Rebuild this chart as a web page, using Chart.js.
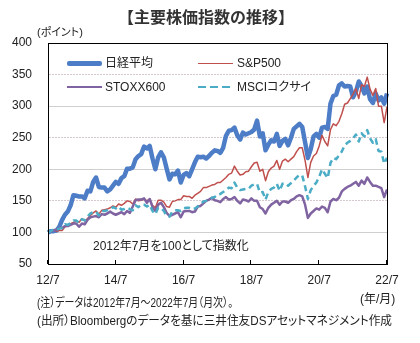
<!DOCTYPE html>
<html lang="ja">
<head>
<meta charset="utf-8">
<script src="https://cdn.jsdelivr.net/npm/chart.js@4.4.1/dist/chart.umd.min.js"></script>
<style>
  html, body { margin: 0; padding: 0; background: #fff; }
  #wrap {
    position: relative; width: 420px; height: 343px; overflow: hidden;
    font-family: "Liberation Sans", "Noto Sans CJK JP", sans-serif;
    font-feature-settings: "palt"; color: #222;
  }
  #wrap canvas { position: absolute; left: 0; top: 0; }
  .txt { position: absolute; white-space: nowrap; line-height: 1; }
  .fit { transform-origin: 0 50%; }
  .swatch { position: absolute; }
</style>
</head>
<body>
<div id="wrap">
  <canvas id="indexChart" width="420" height="343"></canvas>

  <div class="txt" id="title" style="left:0; width:412px; top:8px; text-align:center; font-size:16px; font-weight:bold; color:#333; font-feature-settings:normal; font-family:'Noto Sans CJK JP',sans-serif;">【主要株価指数の推移】</div>
  <div class="txt" style="left:37px; top:27px; font-size:11px;">(ポイント)</div>

  <!-- legend -->
  <div class="swatch" style="left:67px; top:61px; width:35px; height:4.5px; border-radius:2px; background:#4C7DC6;"></div>
  <div class="txt" style="left:105px; top:57px; font-size:12px;">日経平均</div>
  <div class="swatch" style="left:198px; top:62.5px; width:35px; height:1.5px; background:#C0504D;"></div>
  <div class="txt" style="left:237px; top:57px; font-size:12px;">S&amp;P500</div>
  <div class="swatch" style="left:67px; top:85.5px; width:35px; height:2.5px; background:#8064A2;"></div>
  <div class="txt" style="left:105px; top:81px; font-size:12px;">STOXX600</div>
  <div class="swatch" style="left:198px; top:85.5px; width:35px; height:2.5px; background:repeating-linear-gradient(to right, #4BACC6 0 8px, transparent 8px 12px);"></div>
  <div class="txt" style="left:237px; top:81px; font-size:12px;">MSCIコクサイ</div>

  <div class="txt" style="left:93px; top:240px; font-size:12px;">2012年7月を100として指数化</div>
  <div class="txt" style="left:360px; top:293px; font-size:12px;">(年/月)</div>
  <div class="txt fit" data-w="196" style="left:37px; top:297px; font-size:12px;">(注）データは2012年7月～2022年7月（月次）。</div>
  <div class="txt fit" data-w="355" style="left:37px; top:315px; font-size:12px;">(出所）Bloombergのデータを基に三井住友DSアセットマネジメント作成</div>
</div>

<script>
// monthly index values, 2012/7 = 100 (2012/7 .. 2022/7)
const nikkei = [
  100, 102, 102, 103, 109, 120,
  128, 133, 143, 159, 158, 157, 157, 154, 166, 165, 180, 187,
  172, 171, 171, 165, 168, 174, 180, 177, 186, 189, 201, 201,
  203, 216, 221, 224, 236, 233, 237, 217, 200, 219, 227, 219,
  201, 184, 193, 192, 198, 179, 191, 194, 189, 200, 211, 220,
  219, 220, 217, 221, 226, 230, 229, 226, 234, 253, 261, 262,
  266, 254, 247, 258, 255, 257, 259, 263, 277, 252, 257, 230,
  239, 246, 244, 256, 237, 245, 248, 238, 250, 264, 268, 272,
  267, 243, 218, 232, 252, 256, 250, 266, 267, 264, 304, 316,
  318, 333, 336, 331, 332, 331, 314, 323, 339, 332, 320, 331,
  311, 305, 320, 309, 314, 304, 320
]
const sp500 = [
  100, 102, 104, 102, 103, 103,
  109, 110, 114, 116, 118, 116, 122, 118, 122, 127, 131, 134,
  129, 135, 136, 137, 139, 142, 140, 145, 143, 146, 150, 149,
  145, 153, 150, 151, 153, 150, 153, 143, 139, 151, 151, 148,
  141, 140, 149, 150, 152, 152, 158, 157, 157, 154, 159, 162,
  165, 171, 171, 173, 175, 176, 179, 179, 183, 187, 192, 194,
  205, 197, 191, 192, 196, 197, 204, 210, 211, 197, 200, 182,
  196, 202, 205, 214, 200, 213, 216, 212, 216, 220, 228, 234,
  234, 214, 187, 211, 221, 225, 237, 254, 244, 237, 263, 272,
  269, 276, 288, 303, 305, 312, 319, 328, 312, 334, 331, 346,
  327, 317, 328, 300, 300, 274, 299
]
const stoxx600 = [
  100, 102, 103, 104, 107, 107,
  110, 110, 112, 114, 114, 109, 114, 113, 120, 124, 125, 126,
  124, 129, 128, 130, 133, 130, 128, 130, 132, 129, 134, 131,
  141, 151, 152, 152, 154, 147, 153, 140, 134, 144, 147, 140,
  131, 126, 128, 130, 132, 124, 133, 134, 134, 132, 133, 141,
  142, 146, 150, 152, 155, 151, 150, 148, 153, 156, 152, 153,
  156, 150, 146, 152, 151, 149, 154, 150, 150, 140, 137, 130,
  139, 144, 147, 150, 144, 149, 149, 147, 151, 153, 157, 159,
  157, 144, 123, 130, 134, 138, 136, 141, 139, 132, 149, 153,
  151, 155, 165, 169, 172, 174, 177, 180, 174, 182, 177, 187,
  180, 174, 174, 172, 170, 156, 168
]
const msciKokusai = [
  100, 102, 105, 104, 106, 107,
  113, 112, 115, 119, 119, 115, 121, 119, 125, 130, 132, 133,
  127, 134, 134, 135, 137, 140, 138, 141, 136, 137, 139, 137,
  135, 143, 140, 144, 144, 141, 144, 134, 129, 139, 139, 134,
  126, 125, 133, 135, 135, 134, 138, 139, 139, 137, 138, 141,
  145, 149, 150, 152, 155, 156, 160, 161, 164, 167, 171, 170,
  179, 171, 167, 168, 169, 169, 174, 176, 177, 163, 164, 152,
  164, 169, 171, 177, 166, 177, 178, 174, 178, 182, 187, 191,
  190, 173, 153, 167, 174, 179, 188, 200, 193, 186, 210, 218,
  216, 222, 228, 238, 242, 245, 249, 255, 244, 257, 252, 262,
  249, 242, 248, 229, 228, 209, 218
]

// x tick labels every 2 years
const xTickLabels = ['12/7', '14/7', '16/7', '18/7', '20/7', '22/7']

// month categories 2012/7 .. 2022/7
const months = []
for (let y = 2012, m = 7; y < 2022 || (y === 2022 && m <= 7); m++) {
    if (m > 12) { m = 1; y++ }
    if (y === 2022 && m > 7) break
    months.push(y + '/' + m)
}

const tickFont = { family: '"Liberation Sans", sans-serif', size: 12 }

// squeeze the note lines to the width they have in the original
document.querySelectorAll('.fit').forEach(el => {
    const w = el.getBoundingClientRect().width
    el.style.transform = 'scaleX(' + (Number(el.dataset.w) / w) + ')'
})

// frame around the plot and small inner ticks on the x axis
const framePlugin = {
    id: 'frame',
    afterDraw(chart) {
        const { ctx, chartArea: a, scales: { x } } = chart
        ctx.save()
        ctx.strokeStyle = '#000'
        ctx.lineWidth = 1
        ctx.strokeRect(Math.round(a.left) + 0.5, Math.round(a.top) + 0.5,
            Math.round(a.right - a.left), Math.round(a.bottom - a.top))
        ctx.beginPath()
        xTickLabels.forEach((lbl, k) => {
            const px = Math.round(x.getPixelForValue(k * 24)) - 0.5
            ctx.moveTo(px, a.bottom)
            ctx.lineTo(px, a.bottom - 4)
        })
        ctx.stroke()
        ctx.restore()
    }
}

const ctx = document.getElementById('indexChart').getContext('2d')
new Chart(ctx, {
    type: 'line',
    data: {
        labels: months,
        datasets: [
            { label: '日経平均', data: nikkei, borderColor: '#4C7DC6', borderWidth: 4.5, order: 4 },
            { label: 'S&P500', data: sp500, borderColor: '#C0504D', borderWidth: 1.5, order: 3 },
            { label: 'STOXX600', data: stoxx600, borderColor: '#8064A2', borderWidth: 2.5, order: 2 },
            { label: 'MSCIコクサイ', data: msciKokusai, borderColor: '#4BACC6', borderWidth: 2.5, borderDash: [6, 4], order: 1 }
        ]
    },
    options: {
        responsive: false,
        animation: false,
        layout: { padding: { top: 43, right: 33, left: 0, bottom: 0 } },
        elements: { point: { radius: 0 }, line: { tension: 0, borderJoinStyle: 'round' } },
        plugins: { legend: { display: false }, tooltip: { enabled: false } },
        scales: {
            x: {
                grid: { display: false, drawTicks: false },
                border: { color: '#000' },
                ticks: {
                    autoSkip: false, maxRotation: 0, padding: 9, color: '#222', font: tickFont,
                    callback: (v, i) => (i % 24 === 0 ? xTickLabels[i / 24] : null)
                },
                afterFit: s => { s.height = 79 }
            },
            y: {
                min: 50, max: 400,
                // solid lines at the hundreds, dotted ones in between
                grid: {
                    drawTicks: false,
                    color: c => (c.tick && c.tick.value % 100 === 50 ? '#d6c8d0' : '#cfcfcf')
                },
                border: {
                    color: '#000',
                    dash: c => (c.tick && c.tick.value % 100 === 50 ? [2, 1] : [])
                },
                ticks: { stepSize: 50, padding: 16, color: '#222', font: tickFont },
                afterFit: s => { s.width = 48 }
            }
        }
    },
    plugins: [framePlugin]
})
</script>
</body>
</html>
